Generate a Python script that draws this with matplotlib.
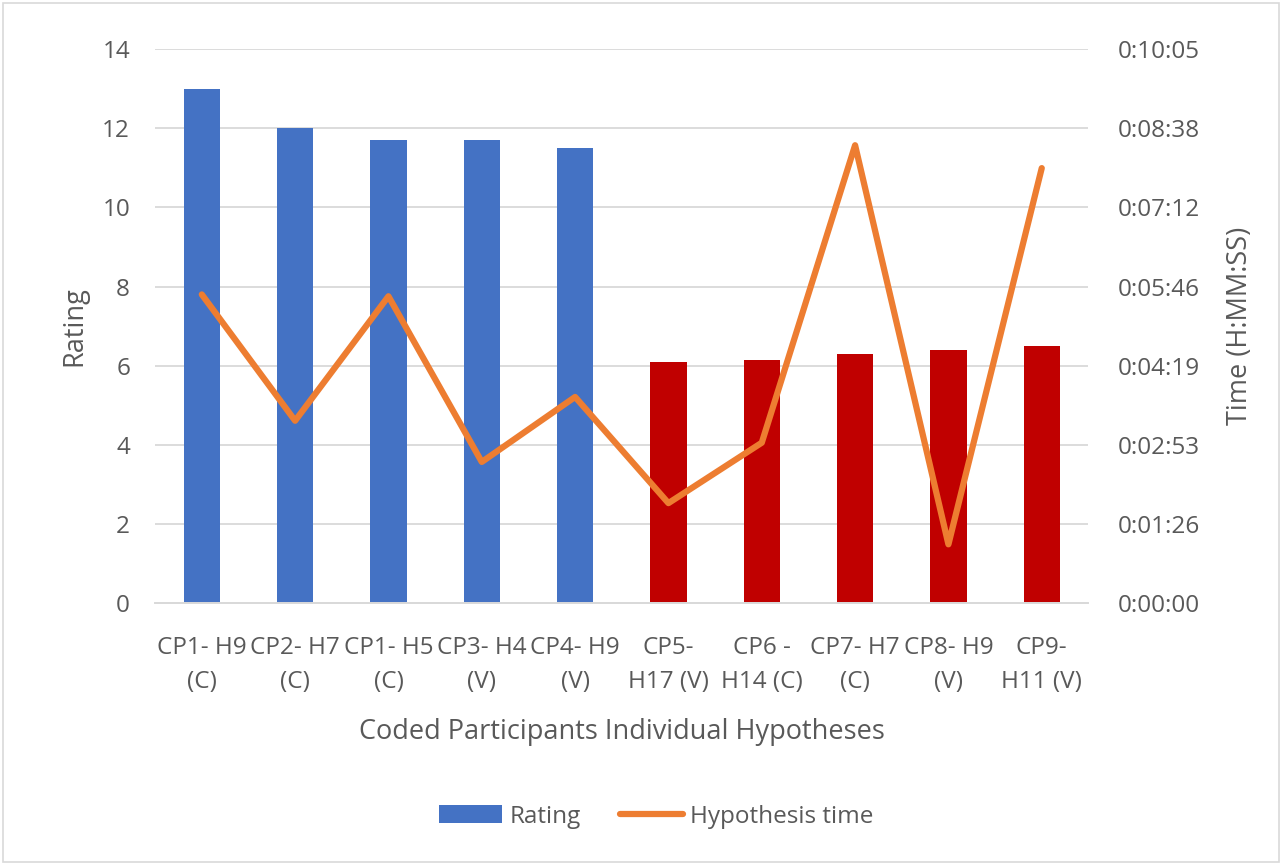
import matplotlib.pyplot as plt
from matplotlib.patches import Rectangle
from matplotlib.ticker import FuncFormatter
import numpy as np

plt.rcParams["font.family"] = ["Open Sans", "DejaVu Sans"]

CATEGORIES = [
    "CP1- H9\n(C)", "CP2- H7\n(C)", "CP1- H5\n(C)", "CP3- H4\n(V)",
    "CP4- H9\n(V)", "CP5-\nH17 (V)", "CP6 -\nH14 (C)", "CP7- H7\n(C)",
    "CP8- H9\n(V)", "CP9-\nH11 (V)",
]
RATING = [13.0, 12.0, 11.7, 11.7, 11.5, 6.1, 6.15, 6.3, 6.4, 6.5]
# hypothesis time in seconds
TIME_S = [337, 199, 335, 154, 225, 109, 175, 500, 64, 475]
BAR_COLORS = ["#4472C4"] * 5 + ["#C00000"] * 5

TEXT = "#595959"
GRID = "#D9D9D9"


def fmt_time(v, _pos=None):
    s = int(round(v))
    return f"{s // 3600}:{(s % 3600) // 60:02d}:{s % 60:02d}"


def main() -> None:
    fig = plt.figure(figsize=(12.82, 8.65), dpi=100)
    fig.patches.append(Rectangle((0.002, 0.003), 0.996, 0.994, transform=fig.transFigure,
                                 fill=False, edgecolor="#D9D9D9", linewidth=1.2))
    ax = fig.add_axes([0.121, 0.303, 0.728, 0.64])
    ax2 = ax.twinx()

    x = np.arange(len(CATEGORIES))
    ax.bar(x, RATING, width=0.39, color=BAR_COLORS, zorder=2, label="Rating")
    ax2.plot(x, TIME_S, color="#ED7D31", linewidth=4.5, solid_capstyle="round",
             solid_joinstyle="round", label="Hypothesis time", zorder=3)

    ax.set_xlim(-0.5, len(CATEGORIES) - 0.5)
    ax.set_ylim(0, 14)
    ax.set_yticks(range(0, 15, 2))
    ax2.set_ylim(0, 604.8)
    ax2.set_yticks([86.4 * k for k in range(8)])
    ax2.yaxis.set_major_formatter(FuncFormatter(fmt_time))

    ax.grid(axis="y", color=GRID, linewidth=1.3, zorder=0)
    ax.set_axisbelow(True)
    for a in (ax, ax2):
        for side in ("top", "left", "right"):
            a.spines[side].set_visible(False)
        a.spines["bottom"].set_color(GRID)
        a.spines["bottom"].set_linewidth(1.3)
        a.tick_params(length=0, colors=TEXT, labelsize=17.5)

    ax.set_xticks(x)
    ax.set_xticklabels(CATEGORIES, fontsize=17.5, color=TEXT, linespacing=1.55)
    ax.tick_params(axis="x", pad=24)
    ax.tick_params(axis="y", pad=18)
    ax2.tick_params(axis="y", pad=21)

    ax.set_xlabel("Coded Participants Individual Hypotheses", fontsize=19.5,
                  color=TEXT, labelpad=17)
    ax.set_ylabel("Rating", fontsize=19.5, color=TEXT, labelpad=10)
    ax2.set_ylabel("Time (H:MM:SS)", fontsize=19.5, color=TEXT, labelpad=19)

    h1, _ = ax.get_legend_handles_labels()
    h2, _ = ax2.get_legend_handles_labels()
    leg = fig.legend(h1 + h2, ["Rating", "Hypothesis time"], loc="center",
                     bbox_to_anchor=(0.512, 0.056), ncol=2, frameon=False,
                     fontsize=17.5, handlelength=2.6, handleheight=0.75,
                     columnspacing=1.6, handletextpad=0.3)
    for t in leg.get_texts():
        t.set_color(TEXT)

    fig.savefig("out.png", dpi=100)


if __name__ == "__main__":
    main()
